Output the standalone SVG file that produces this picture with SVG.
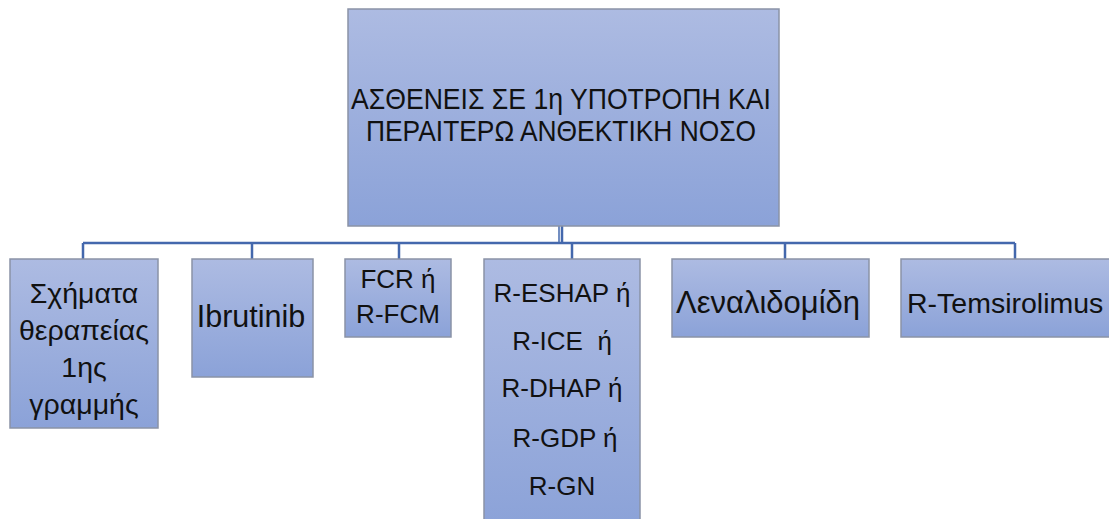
<svg xmlns="http://www.w3.org/2000/svg" width="1109" height="519" viewBox="0 0 1109 519">
<style>
.box{fill:url(#g);stroke:#8a93a6;stroke-width:1.5}
.t{font-family:"Liberation Sans",Arial,sans-serif;font-size:27px;fill:#111;text-anchor:middle}
.c{fill:none;stroke:#4468ad;stroke-width:2.5}
</style>
<defs>
<linearGradient id="g" x1="0" y1="0" x2="0" y2="1">
<stop offset="0" stop-color="#adbbe2"/>
<stop offset="1" stop-color="#8ba2d8"/>
</linearGradient>
</defs>
<g id="connectors">
<path class="c" d="M562 226V243M83 243H1015M83 243V259M252 243V259M399 243V259M572 243V259M785 243V259M1015 243V259"/>
<path d="M559 226V243" stroke="#4468ad" stroke-width="1.5" fill="none"/>
</g>
<g id="root">
<rect class="box" x="348" y="9" width="431" height="217"/>
<text class="t" x="561" y="109" style="font-size:29px" textLength="420" lengthAdjust="spacingAndGlyphs">ΑΣΘΕΝΕΙΣ ΣΕ 1η ΥΠΟΤΡΟΠΗ ΚΑΙ</text>
<text class="t" x="561" y="141" style="font-size:29px" textLength="390" lengthAdjust="spacingAndGlyphs">ΠΕΡΑΙΤΕΡΩ ΑΝΘΕΚΤΙΚΗ ΝΟΣΟ</text>
</g>
<g id="n1">
<rect class="box" x="10" y="259" width="148" height="169"/>
<text class="t" x="84" y="303" style="font-size:28.5px">Σχήματα</text>
<text class="t" x="84" y="340" style="font-size:28.5px">θεραπείας</text>
<text class="t" x="84" y="377" style="font-size:28.5px">1ης</text>
<text class="t" x="84" y="414" style="font-size:28.5px">γραμμής</text>
</g>
<g id="n2">
<rect class="box" x="192" y="259" width="121" height="118"/>
<text class="t" x="251" y="327" style="font-size:30.5px">Ibrutinib</text>
</g>
<g id="n3">
<rect class="box" x="345" y="259" width="106" height="78"/>
<text class="t" x="398" y="288" style="font-size:26px">FCR ή</text>
<text class="t" x="398" y="323" style="font-size:26px">R-FCM</text>
</g>
<g id="n4">
<rect class="box" x="484" y="259" width="156" height="270"/>
<text class="t" x="562" y="302" style="font-size:26px">R-ESHAP ή</text>
<text class="t" x="562" y="350" style="font-size:26px;white-space:pre">R-ICE  ή</text>
<text class="t" x="562" y="397" style="font-size:26px">R-DHAP ή</text>
<text class="t" x="565" y="447" style="font-size:26px">R-GDP ή</text>
<text class="t" x="562" y="495" style="font-size:26px">R-GN</text>
</g>
<g id="n5">
<rect class="box" x="672" y="259" width="197" height="78"/>
<text class="t" x="768" y="313" style="font-size:31px">Λεναλιδομίδη</text>
</g>
<g id="n6">
<rect class="box" x="901" y="259" width="220" height="78"/>
<text class="t" x="907" y="313" style="text-anchor:start;font-size:28.5px">R-Temsirolimus</text>
</g>
</svg>
